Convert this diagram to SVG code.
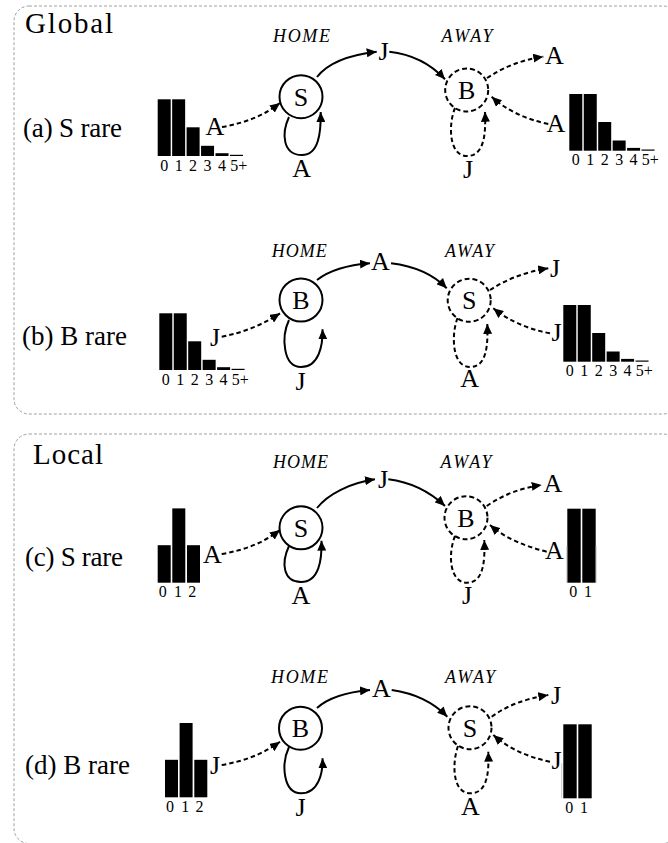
<svg xmlns="http://www.w3.org/2000/svg" xmlns:xlink="http://www.w3.org/1999/xlink" width="668" height="843" viewBox="0 0 668 843" font-family="'Liberation Serif', serif">
<style>
.frame{fill:none;stroke:#a0a0a0;stroke-width:1;stroke-dasharray:3 2}
.edge{fill:none;stroke:#000;stroke-width:2;marker-end:url(#ah)}
.dash{stroke-dasharray:4.5 3}
.home{fill:none;stroke:#000;stroke-width:2}
.away{fill:none;stroke:#000;stroke-width:2;stroke-dasharray:5 3}
text{font-family:'Liberation Serif',serif;fill:#000}
.ttl{font-size:29px}
.pl{font-size:27px}
.lb{font-size:26px}
.nl{font-size:26px;text-anchor:middle}
.it{font-size:18px;font-style:italic;text-anchor:middle}
.num{font-size:16px;text-anchor:middle}
.bar{fill:#000}
.ghost{stroke:#bbb;stroke-width:0.8}
</style>
<defs>
<marker id="ah" markerUnits="userSpaceOnUse" markerWidth="11" markerHeight="9" refX="10" refY="4.5" orient="auto">
<path d="M0,0 L10,4.5 L0,9 z" fill="#000"/>
</marker>
<g id="histG">
<rect class="bar" x="0" y="-56.7" width="13" height="56.7"/>
<rect class="bar" x="14.45" y="-56.7" width="13" height="56.7"/>
<rect class="bar" x="28.9" y="-28.7" width="13" height="28.7"/>
<rect class="bar" x="43.35" y="-10.2" width="13" height="10.2"/>
<rect class="bar" x="57.8" y="-2.8" width="13" height="2.8"/>
<rect class="bar" x="72.25" y="-1.2" width="13" height="1.2"/>
<text class="num" x="6.5" y="14.7">0</text>
<text class="num" x="20.95" y="14.7">1</text>
<text class="num" x="35.4" y="14.7">2</text>
<text class="num" x="49.85" y="14.7">3</text>
<text class="num" x="64.3" y="14.7">4</text>
<text class="num" x="72.5" y="14.7" style="text-anchor:start">5+</text>
</g>
<g id="histL3">
<rect class="bar" x="0" y="-37.5" width="13" height="37.5"/>
<rect class="bar" x="14.6" y="-74.3" width="13" height="74.3"/>
<rect class="bar" x="29.3" y="-37.5" width="13" height="37.5"/>
<text class="num" x="5" y="14.6">0</text>
<text class="num" x="20.3" y="14.6">1</text>
<text class="num" x="34.5" y="14.6">2</text>
</g>
<g id="histL2">
<rect class="bar" x="0" y="-74" width="13.4" height="74"/>
<rect class="bar" x="15" y="-74" width="13.4" height="74"/>
<text class="num" x="6" y="14.6">0</text>
<text class="num" x="20.8" y="14.6">1</text>
</g>
</defs>

<g id="frames">
<rect class="frame" x="14" y="6" width="664" height="408" rx="15"/>
<rect class="frame" x="14" y="434" width="664" height="409.5" rx="15"/>
</g>

<g id="titles">
<text class="ttl" x="25" y="33" textLength="88">Global</text>
<text class="ttl" x="33" y="464" textLength="70">Local</text>
</g>

<!-- Panel (a) -->
<g id="panel-a">
<text class="pl" x="23" y="137" textLength="99">(a) S rare</text>
<g id="a-hist-left"><use xlink:href="#histG" x="157.7" y="156"/></g>
<g id="a-hist-right"><use xlink:href="#histG" x="569.3" y="150.7"/></g>
<text class="it" x="301.5" y="42" textLength="57">HOME</text>
<text class="it" x="467" y="41.7" textLength="51">AWAY</text>
<g id="a-home"><circle class="home" cx="301" cy="96.7" r="21.5"/><text class="nl" x="301" y="105.5">S</text></g>
<g id="a-away"><circle class="away" cx="466.7" cy="90" r="21.5"/><text class="nl" x="466.7" y="99">B</text></g>
<g id="a-labels">
<text class="lb" x="205.5" y="135">A</text>
<text class="nl" x="301.7" y="176.7">A</text>
<text class="lb" x="378.5" y="60">J</text>
<text class="lb" x="545" y="64">A</text>
<text class="lb" x="546.5" y="131.7">A</text>
<text class="nl" x="468" y="178">J</text>
</g>
</g>

<!-- Panel (b) -->
<g id="panel-b">
<text class="pl" x="22" y="345" textLength="105">(b) B rare</text>
<g id="b-hist-left"><use xlink:href="#histG" x="159.3" y="370"/></g>
<g id="b-hist-right"><use xlink:href="#histG" x="563.3" y="361.7"/></g>
<text class="it" x="299.2" y="256.7" textLength="55">HOME</text>
<text class="it" x="469.5" y="256.7" textLength="49">AWAY</text>
<g id="b-home"><circle class="home" cx="301" cy="300" r="21.5"/><text class="nl" x="301" y="309">B</text></g>
<g id="b-away"><circle class="away" cx="469.2" cy="300.3" r="21.5"/><text class="nl" x="469.2" y="309.2">S</text></g>
<g id="b-labels">
<text class="lb" x="210" y="346">J</text>
<text class="nl" x="300.5" y="390">J</text>
<text class="lb" x="371" y="270">A</text>
<text class="lb" x="550" y="277">J</text>
<text class="lb" x="551.5" y="341">J</text>
<text class="nl" x="469.7" y="386.7">A</text>
</g>
</g>

<!-- Panel (c) -->
<g id="panel-c">
<text class="pl" x="25" y="565.7" textLength="98">(c) S rare</text>
<g id="c-hist-left"><use xlink:href="#histL3" x="157.7" y="582.7"/></g>
<g id="c-hist-right"><use xlink:href="#histL2" x="567.3" y="582.7"/>
<line class="ghost" x1="566.8" y1="545.7" x2="566.8" y2="582.7"/>
<line class="ghost" x1="596.2" y1="545.7" x2="596.2" y2="582.7"/></g>
<text class="it" x="300.5" y="468.3" textLength="55">HOME</text>
<text class="it" x="466" y="468.3" textLength="51">AWAY</text>
<g id="c-home"><circle class="home" cx="301" cy="527.8" r="21.5"/><text class="nl" x="301" y="536.8">S</text></g>
<g id="c-away"><circle class="away" cx="466" cy="517.7" r="21.5"/><text class="nl" x="466" y="526.7">B</text></g>
<g id="c-labels">
<text class="lb" x="203" y="562.7">A</text>
<text class="nl" x="301" y="604">A</text>
<text class="lb" x="378" y="488">J</text>
<text class="lb" x="543.5" y="491.7">A</text>
<text class="lb" x="545" y="559.3">A</text>
<text class="nl" x="467" y="604">J</text>
</g>
</g>

<!-- Panel (d) -->
<g id="panel-d">
<text class="pl" x="25" y="774" textLength="105">(d) B rare</text>
<g id="d-hist-left"><use xlink:href="#histL3" x="165" y="797.3"/></g>
<g id="d-hist-right"><use xlink:href="#histL2" x="563.3" y="798.3"/>
<line class="ghost" x1="561.7" y1="763.3" x2="561.7" y2="798.3"/></g>
<text class="it" x="299.5" y="683.3" textLength="57">HOME</text>
<text class="it" x="470" y="683.3" textLength="50">AWAY</text>
<g id="d-home"><circle class="home" cx="300.5" cy="728.2" r="21.5"/><text class="nl" x="300.5" y="737.2">B</text></g>
<g id="d-away"><circle class="away" cx="470" cy="727.7" r="21.5"/><text class="nl" x="470" y="736.7">S</text></g>
<g id="d-labels">
<text class="lb" x="210" y="774">J</text>
<text class="nl" x="300.5" y="816">J</text>
<text class="lb" x="372" y="696.7">A</text>
<text class="lb" x="551" y="704">J</text>
<text class="lb" x="551.5" y="769">J</text>
<text class="nl" x="470.5" y="815">A</text>
</g>
</g>

<g id="connectors">
<!-- a -->
<path class="edge dash" d="M222,127 C245,123 263,116 280,103"/>
<path class="edge" d="M289,117 C281,134 283,155 302,155 C319,155 321,132 320.7,112"/>
<path class="edge" d="M317,77 C327,64 348,55 376.7,51.7"/>
<path class="edge" d="M389.3,51.7 C410,54 430,63 445,79.3"/>
<path class="edge dash" d="M487,78 C504,67 521,60 543.3,56.7"/>
<path class="edge dash" d="M548.3,124 C525,119 506,110 491.7,96.7"/>
<path class="edge dash" d="M455,108 C448,125 449,156 467,156 C484,156 486,135 485,111.7"/>
<!-- b -->
<path class="edge dash" d="M221.7,336.7 C245,332 262,325 280,313.3"/>
<path class="edge" d="M289,320 C281,337 283,367 301,367 C319,367 323,345 322.5,329.3"/>
<path class="edge" d="M317,280 C330,270 348,265 370,263.3"/>
<path class="edge" d="M391,263.3 C413,266 433,274 446.7,288.3"/>
<path class="edge dash" d="M490,290 C507,279 525,272 548.3,268.3"/>
<path class="edge dash" d="M550,333.3 C527,329 508,320 493.3,308.3"/>
<path class="edge dash" d="M457.5,318 C451,335 452,367 470,367 C487,367 488,345 487.3,324"/>
<!-- c -->
<path class="edge dash" d="M221.7,554 C245,550 263,543 280,530"/>
<path class="edge" d="M289,546 C281,563 283,582 301,582 C319,582 322,560 321.5,540.7"/>
<path class="edge" d="M317,508 C328,494 350,483 375,479.3"/>
<path class="edge" d="M388.3,479.3 C410,482 430,492 445,506"/>
<path class="edge dash" d="M486.7,506 C503,495 520,488 541.7,485"/>
<path class="edge dash" d="M546.7,551.7 C524,546 505,538 490,525"/>
<path class="edge dash" d="M455,536 C448,553 449,582.7 467,582.7 C484,582.7 485,560 484.3,540"/>
<!-- d -->
<path class="edge dash" d="M221.7,765 C245,761 263,754 280,741.7"/>
<path class="edge" d="M289,747 C281,764 283,793.3 301,793.3 C319,793.3 323,772 322.5,758.3"/>
<path class="edge" d="M317,708 C329,697 348,692 370,690"/>
<path class="edge" d="M391.7,690 C413,693 433,702 447.3,716.7"/>
<path class="edge dash" d="M491.7,716.7 C508,705 525,699 548.3,695"/>
<path class="edge dash" d="M550,761.7 C527,757 508,748 493.3,735"/>
<path class="edge dash" d="M458,746 C452,763 452,793.3 470.5,793.3 C488,793.3 489,771 488.3,751.7"/>
</g>
</svg>
